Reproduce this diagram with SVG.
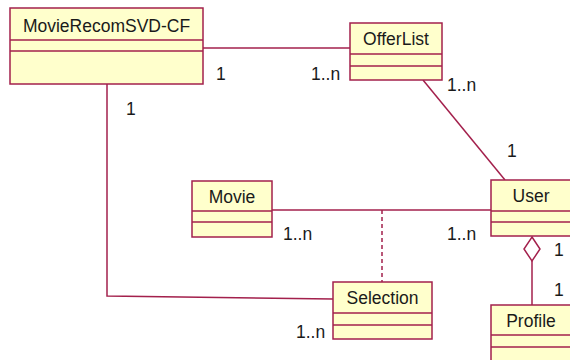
<svg xmlns="http://www.w3.org/2000/svg" width="570" height="360" viewBox="0 0 570 360">
  <style>
    .box { fill: #ffffcc; stroke: #a3204c; stroke-width: 1.5; }
    .div { stroke: #a3204c; stroke-width: 1.5; }
    .name { font-family: "Liberation Sans", Arial, sans-serif; font-size: 17.5px; fill: #1a1a1a; text-anchor: middle; }
    .line { fill: none; stroke: #a3204c; stroke-width: 1.5; }
    .dash { fill: none; stroke: #a3204c; stroke-width: 1.5; stroke-dasharray: 4 3; }
    .mult { font-family: "Liberation Sans", Arial, sans-serif; font-size: 17.5px; fill: #1a1a1a; }
  </style>
  <rect width="570" height="360" fill="#ffffff"/>

  <!-- associations -->
  <g id="connectors">
    <line class="line" x1="203" y1="48" x2="350" y2="48"/>
    <line class="line" x1="423" y1="80" x2="505" y2="180"/>
    <line class="line" x1="272" y1="210" x2="491" y2="210"/>
    <line class="dash" x1="382" y1="210" x2="382" y2="282"/>
    <polyline class="line" points="107,84 107,296 333,299"/>
    <polygon class="line" points="532,237 540,249 532,261 524,249" style="fill:#ffffff"/>
    <line class="line" x1="532" y1="261" x2="532" y2="305"/>
  </g>

  <!-- multiplicities -->
  <g id="labels">
    <text class="mult" x="216" y="80">1</text>
    <text class="mult" x="311" y="80">1..n</text>
    <text class="mult" x="126" y="115">1</text>
    <text class="mult" x="447" y="91">1..n</text>
    <text class="mult" x="507" y="157">1</text>
    <text class="mult" x="283" y="240">1..n</text>
    <text class="mult" x="447" y="240">1..n</text>
    <text class="mult" x="296" y="338">1..n</text>
    <text class="mult" x="554" y="256">1</text>
    <text class="mult" x="554" y="296">1</text>
  </g>

  <g id="MovieRecomSVD-CF">
    <rect class="box" x="10" y="8" width="193" height="76"/>
    <line class="div" x1="10" y1="40" x2="203" y2="40"/>
    <line class="div" x1="10" y1="51" x2="203" y2="51"/>
    <text class="name" x="106.5" y="32">MovieRecomSVD-CF</text>
  </g>

  <g id="OfferList">
    <rect class="box" x="350" y="23" width="92" height="57"/>
    <line class="div" x1="350" y1="54" x2="442" y2="54"/>
    <line class="div" x1="350" y1="66" x2="442" y2="66"/>
    <text class="name" x="396" y="45">OfferList</text>
  </g>

  <g id="Movie">
    <rect class="box" x="192" y="181" width="80" height="56"/>
    <line class="div" x1="192" y1="211" x2="272" y2="211"/>
    <line class="div" x1="192" y1="222" x2="272" y2="222"/>
    <text class="name" x="232" y="203">Movie</text>
  </g>

  <g id="User">
    <rect class="box" x="491" y="180" width="82" height="56"/>
    <line class="div" x1="491" y1="211" x2="573" y2="211"/>
    <line class="div" x1="491" y1="222" x2="573" y2="222"/>
    <text class="name" x="531" y="202">User</text>
  </g>

  <g id="Selection">
    <rect class="box" x="333" y="282" width="99" height="57"/>
    <line class="div" x1="333" y1="313" x2="432" y2="313"/>
    <line class="div" x1="333" y1="325" x2="432" y2="325"/>
    <text class="name" x="382.5" y="304">Selection</text>
  </g>

  <g id="Profile">
    <rect class="box" x="491" y="305" width="82" height="60"/>
    <line class="div" x1="491" y1="335" x2="573" y2="335"/>
    <line class="div" x1="491" y1="347" x2="573" y2="347"/>
    <text class="name" x="531" y="327">Profile</text>
  </g>
</svg>
